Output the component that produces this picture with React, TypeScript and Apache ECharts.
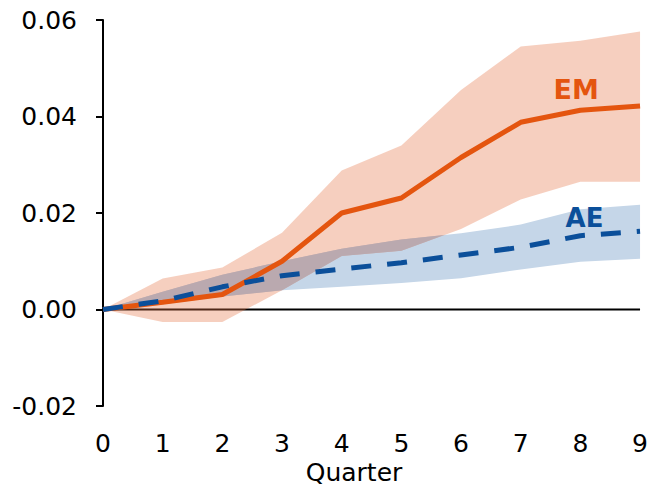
import React, { useEffect, useRef } from "react";
import * as echarts from "echarts";

const quarters = [0, 1, 2, 3, 4, 5, 6, 7, 8, 9];
const emMedian = [0, 0.0015, 0.0031, 0.01, 0.02, 0.0231, 0.0315, 0.0388, 0.0413, 0.0422];
const emUpper = [0, 0.0064, 0.0087, 0.0159, 0.0288, 0.034, 0.0455, 0.0545, 0.0557, 0.0576];
const emLower = [0, -0.0026, -0.0026, 0.004, 0.0111, 0.0122, 0.0167, 0.0228, 0.0265, 0.0265];
const aeMedian = [0, 0.0018, 0.0047, 0.007, 0.0084, 0.0097, 0.0113, 0.0129, 0.0153, 0.0162];
const aeUpper = [0, 0.0037, 0.0072, 0.01, 0.0126, 0.0145, 0.0158, 0.0176, 0.0208, 0.0217];
const aeLower = [0, 0.0011, 0.0027, 0.004, 0.0047, 0.0055, 0.0065, 0.0083, 0.0099, 0.0105];
const yMin = -0.02;
const yMax = 0.06;
const yStep = 0.02;

const ORANGE = "#E4550F";
const BLUE = "#0B4F9A";
const FONT = "DejaVu Sans";

function pairs(ys: number[]): number[][] {
  return quarters.map((q, i) => [q, ys[i]]);
}

function overlapBand() {
  const upper: number[][] = [];
  const lower: number[][] = [];
  const fns = [emLower, emUpper, aeLower, aeUpper];
  for (let i = 0; i < quarters.length - 1; i++) {
    const f = (arr: number[], t: number) => arr[i] + (arr[i + 1] - arr[i]) * t;
    const ts = [0, 1];
    for (let a = 0; a < fns.length; a++) {
      for (let b = a + 1; b < fns.length; b++) {
        const d0 = fns[a][i] - fns[b][i];
        const d1 = fns[a][i + 1] - fns[b][i + 1];
        if (d0 !== d1) {
          const t = d0 / (d0 - d1);
          if (t > 0 && t < 1) ts.push(t);
        }
      }
    }
    ts.sort((p, q) => p - q);
    for (const t of ts) {
      const x = quarters[i] + (quarters[i + 1] - quarters[i]) * t;
      const lo = Math.max(f(emLower, t), f(aeLower, t));
      const hi = Math.min(f(emUpper, t), f(aeUpper, t));
      if (hi >= lo - 1e-12) {
        upper.push([x, hi]);
        lower.push([x, lo]);
      }
    }
  }
  return { upper, lower };
}

function bandSeries(up: number[][], lo: number[][], fill: string, z: number) {
  return {
    type: "custom",
    z,
    silent: true,
    data: [[up[0][0], up[0][1]]],
    encode: { x: 0, y: 1 },
    renderItem: (params: any, api: any) => {
      const pts = up
        .map((p) => api.coord(p))
        .concat(lo.slice().reverse().map((p) => api.coord(p)));
      return { type: "polygon", shape: { points: pts }, style: { fill } };
    },
  };
}

export default function App() {
  const ref = useRef<HTMLDivElement>(null);
  useEffect(() => {
    if (!ref.current) return;
    const chart = echarts.init(ref.current, null, { renderer: "svg" });
    const ov = overlapBand();
    const last = quarters.length - 1;
    chart.setOption({
      animation: false,
      grid: { left: 103, right: 10, top: 20, bottom: 83, containLabel: false },
      xAxis: {
        type: "value",
        min: quarters[0],
        max: quarters[last],
        interval: 1,
        axisLine: { show: false },
        axisTick: { show: false },
        splitLine: { show: false },
        axisLabel: { color: "#000", fontSize: 25, fontFamily: FONT, margin: 25 },
      },
      yAxis: {
        type: "value",
        min: yMin,
        max: yMax,
        interval: yStep,
        axisLine: { show: true, lineStyle: { color: "#000", width: 2 } },
        axisTick: { show: true, length: 7, lineStyle: { color: "#000", width: 2 } },
        splitLine: { show: false },
        axisLabel: {
          color: "#000",
          fontSize: 25,
          fontFamily: FONT,
          margin: 26,
          formatter: (v: number) => v.toFixed(2),
        },
      },
      graphic: [
        {
          type: "text",
          x: 354,
          y: 472,
          silent: true,
          style: {
            text: "Quarter",
            font: `25px "${FONT}"`,
            fill: "#000",
            align: "center",
            verticalAlign: "middle",
            textAlign: "center",
            textVerticalAlign: "middle",
          },
        },
      ],
      series: [
        {
          type: "line",
          name: "zero",
          z: 1,
          silent: true,
          symbol: "none",
          data: [
            [quarters[0], 0],
            [quarters[last], 0],
          ],
          lineStyle: { color: "#000", width: 2 },
        },
        bandSeries(pairs(aeUpper), pairs(aeLower), "#C5D6E8", 2),
        bandSeries(pairs(emUpper), pairs(emLower), "rgba(229,118,72,0.35)", 3),
        bandSeries(ov.upper, ov.lower, "#BAA9AF", 4),
        {
          type: "line",
          name: "EM",
          z: 5,
          symbol: "none",
          data: pairs(emMedian),
          lineStyle: { color: ORANGE, width: 5 },
          markPoint: {
            silent: true,
            symbol: "rect",
            symbolSize: 1,
            itemStyle: { color: "rgba(0,0,0,0)" },
            data: [
              {
                coord: [7.93, 0.0456],
                label: {
                  show: true,
                  position: "inside",
                  formatter: "EM",
                  color: ORANGE,
                  fontSize: 27,
                  fontWeight: "bold",
                  fontFamily: FONT,
                },
              },
            ],
          },
        },
        {
          type: "line",
          name: "AE",
          z: 6,
          symbol: "none",
          data: pairs(aeMedian),
          lineStyle: { color: BLUE, width: 5, type: [20, 16] },
          markPoint: {
            silent: true,
            symbol: "rect",
            symbolSize: 1,
            itemStyle: { color: "rgba(0,0,0,0)" },
            data: [
              {
                coord: [8.07, 0.0189],
                label: {
                  show: true,
                  position: "inside",
                  formatter: "AE",
                  color: BLUE,
                  fontSize: 26,
                  fontWeight: "bold",
                  fontFamily: FONT,
                },
              },
            ],
          },
        },
      ],
    });
    return () => chart.dispose();
  }, []);
  return (
    <div
      ref={ref}
      style={{ position: "absolute", left: 0, top: 0, width: 651, height: 489 }}
    />
  );
}
